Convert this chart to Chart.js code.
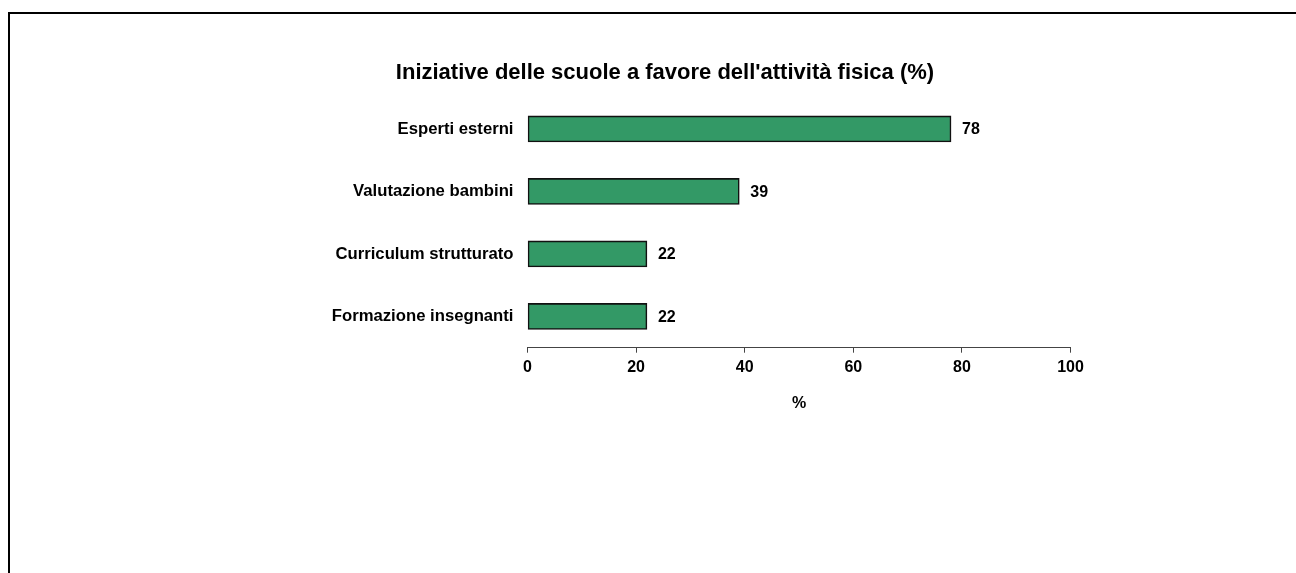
<!DOCTYPE html>
<html>
<head>
<meta charset="utf-8">
<script src="https://cdn.jsdelivr.net/npm/chart.js@4.4.0/dist/chart.umd.min.js"></script>
<style>
    html, body { margin: 0; padding: 0; background: #fff; }
    #frame {
        position: absolute; left: 8px; top: 12px; width: 1400px; height: 700px;
        border-left: 2px solid #000; border-top: 2px solid #000;
    }
    #wrap { position: absolute; left: 0; top: 0; width: 1296px; height: 573px; }
</style>
</head>
<body>
<div id="frame"></div>
<div id="wrap"><canvas id="chart"></canvas></div>
<script>
// dati
const categorie = ['Esperti esterni', 'Valutazione bambini', 'Curriculum strutturato', 'Formazione insegnanti'];
const percentuali = [78, 39, 22, 22];
const tickValori = [0, 20, 40, 60, 80, 100];
const titolo = "Iniziative delle scuole a favore dell'attività fisica (%)";
const titoloAsse = '%';

const FONT = "'Liberation Sans', Arial, sans-serif";

// etichette dei valori a destra delle barre
const etichetteValori = {
    id: 'etichetteValori',
    afterDatasetsDraw(chart) {
        const ctx = chart.ctx;
        const meta = chart.getDatasetMeta(0);
        ctx.save();
        ctx.font = 'bold 16px ' + FONT;
        ctx.fillStyle = '#000';
        ctx.textAlign = 'left';
        ctx.textBaseline = 'middle';
        meta.data.forEach((bar, i) => {
            ctx.fillText(String(percentuali[i]), bar.x + 11, bar.y + 1);
        });
        ctx.restore();
    }
};

document.addEventListener('DOMContentLoaded', function() {
    const ctx = document.getElementById('chart').getContext('2d');
    new Chart(ctx, {
        type: 'bar',
        data: {
            labels: categorie,
            datasets: [{
                data: percentuali,
                backgroundColor: '#339966',
                borderColor: '#111',
                borderWidth: 1.6,
                borderSkipped: false,
                barThickness: 26
            }]
        },
        options: {
            indexAxis: 'y',
            responsive: true,
            maintainAspectRatio: false,
            animation: false,
            layout: {
                padding: { left: 259.5, right: 225.5, top: 0, bottom: 155.3 }
            },
            plugins: {
                legend: { display: false },
                tooltip: { enabled: false },
                title: {
                    display: true,
                    text: titolo,
                    color: '#000',
                    font: { family: FONT, size: 22, weight: 'bold' },
                    padding: { top: 59.5, bottom: 11.8 }
                }
            },
            scales: {
                x: {
                    min: 0,
                    max: 100,
                    afterBuildTicks: scale => {
                        scale.ticks = tickValori.map(v => ({ value: v }));
                    },
                    afterFit: scale => { scale.height = 70; },
                    grid: {
                        drawOnChartArea: false,
                        drawTicks: true,
                        tickLength: 5,
                        color: '#444'
                    },
                    border: { display: true, color: '#444', width: 1 },
                    ticks: {
                        color: '#000',
                        padding: 5,
                        maxRotation: 0,
                        font: { family: FONT, size: 16, weight: 'bold' }
                    },
                    title: {
                        display: true,
                        text: titoloAsse,
                        color: '#000',
                        font: { family: FONT, size: 16, weight: 'bold' },
                        padding: { top: 0, bottom: 5 }
                    }
                },
                y: {
                    afterFit: scale => { scale.width = 268; },
                    grid: { display: false, drawTicks: false },
                    border: { display: false },
                    ticks: {
                        color: '#000',
                        padding: 14,
                        font: { family: FONT, size: 16.7, weight: 'bold' }
                    }
                }
            }
        },
        plugins: [etichetteValori]
    });
});
</script>
</body>
</html>
